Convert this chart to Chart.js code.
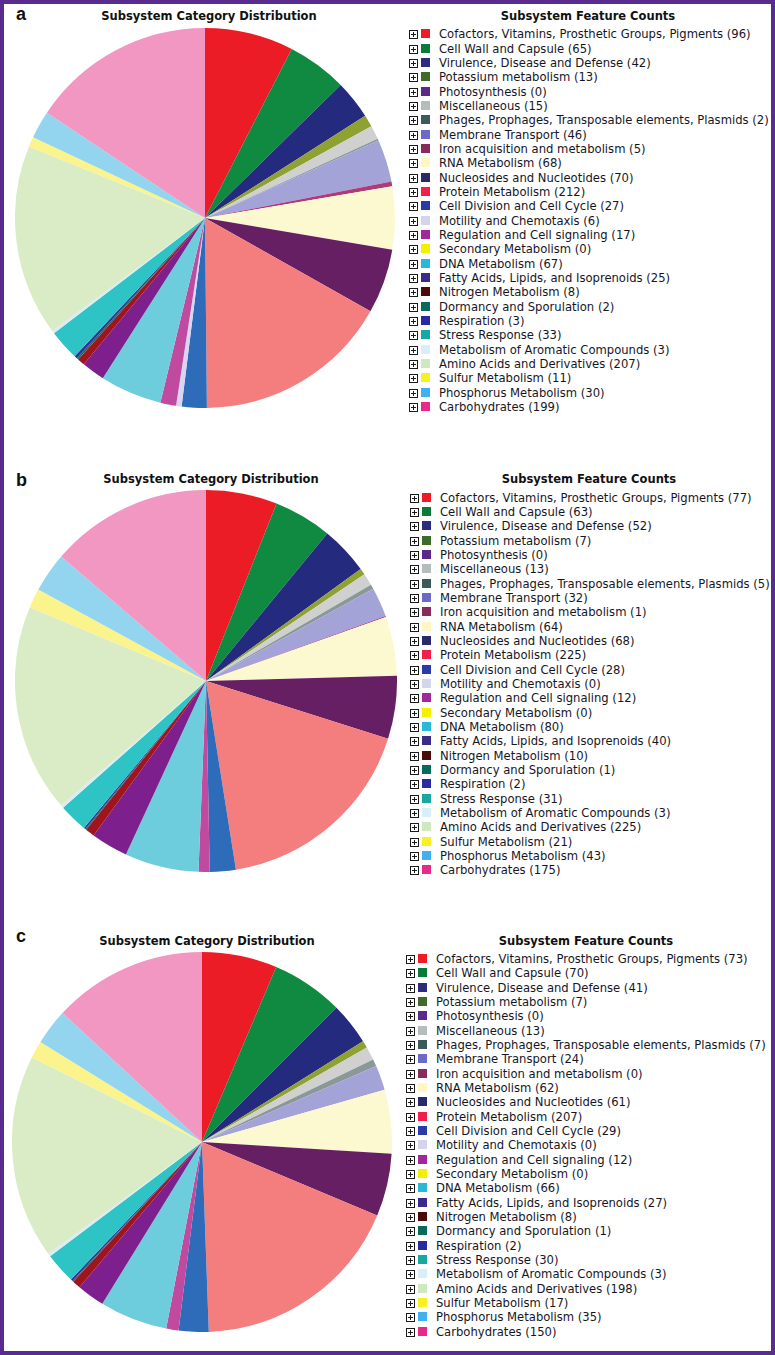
<!DOCTYPE html>
<html>
<head>
<meta charset="utf-8">
<script src="https://cdn.jsdelivr.net/npm/chart.js@4.4.1/dist/chart.umd.min.js"></script>
<style>
    html, body { margin: 0; padding: 0; background: #fff; }
    body { width: 775px; height: 1355px; position: relative; overflow: hidden; font-family: "DejaVu Sans", Verdana, sans-serif; }
    #frame { position: absolute; left: 0; top: 0; width: 775px; height: 1355px; box-sizing: border-box; border: 4px solid #5b2c8f; pointer-events: none; z-index: 5; }
    .panel-label { position: absolute; font-family: "Liberation Sans", Arial, sans-serif; font-weight: bold; font-size: 18px; color: #111; line-height: 20px; }
    .pie-title, .key-title { position: absolute; font-weight: bold; font-size: 11.5px; color: #111; line-height: 14px; white-space: nowrap; transform: translateX(-50%); }
    .pie-box { position: absolute; }
    .key-row { position: absolute; height: 14px; line-height: 14px; font-size: 11.6px; color: #16161f; white-space: nowrap; }
    .key-row .plus { position: absolute; left: -30px; top: 3px; width: 7px; height: 7px; border: 1px solid #1a1a1a;
        background: linear-gradient(#1a1a1a, #1a1a1a) center / 5px 1px no-repeat, linear-gradient(#1a1a1a, #1a1a1a) center / 1px 5px no-repeat; }
    .key-row .swatch { position: absolute; left: -18px; top: 2px; width: 9px; height: 9px; }
</style>
</head>
<body>
<div id="frame"></div>

<script>
// Subsystem categories (same order in legend and pie, clockwise from 12 o'clock)
const categories = [
    'Cofactors, Vitamins, Prosthetic Groups, Pigments',
    'Cell Wall and Capsule',
    'Virulence, Disease and Defense',
    'Potassium metabolism',
    'Photosynthesis',
    'Miscellaneous',
    'Phages, Prophages, Transposable elements, Plasmids',
    'Membrane Transport',
    'Iron acquisition and metabolism',
    'RNA Metabolism',
    'Nucleosides and Nucleotides',
    'Protein Metabolism',
    'Cell Division and Cell Cycle',
    'Motility and Chemotaxis',
    'Regulation and Cell signaling',
    'Secondary Metabolism',
    'DNA Metabolism',
    'Fatty Acids, Lipids, and Isoprenoids',
    'Nitrogen Metabolism',
    'Dormancy and Sporulation',
    'Respiration',
    'Stress Response',
    'Metabolism of Aromatic Compounds',
    'Amino Acids and Derivatives',
    'Sulfur Metabolism',
    'Phosphorus Metabolism',
    'Carbohydrates'
];

// Feature counts for panels a, b, c
const countsA = [96, 65, 42, 13, 0, 15, 2, 46, 5, 68, 70, 212, 27, 6, 17, 0, 67, 25, 8, 2, 3, 33, 3, 207, 11, 30, 199];
const countsB = [77, 63, 52, 7, 0, 13, 5, 32, 1, 64, 68, 225, 28, 0, 12, 0, 80, 40, 10, 1, 2, 31, 3, 225, 21, 43, 175];
const countsC = [73, 70, 41, 7, 0, 13, 7, 24, 0, 62, 61, 207, 29, 0, 12, 0, 66, 27, 8, 1, 2, 30, 3, 198, 17, 35, 150];

const panelLabels = ['a', 'b', 'c'];
const pieTitle = 'Subsystem Category Distribution';
const keyTitle = 'Subsystem Feature Counts';

// Slice colours (pie) and swatch colours (legend)
const sliceColors = [
    '#ec1c26', '#108a40', '#242a7e', '#8ea232', '#5b2a8c', '#d0d0d0', '#8a9898', '#a4a3d8', '#b03a78',
    '#fcf9d0', '#661f62', '#f47d7e', '#2e6bb8', '#d6d6f0', '#c04aa0', '#f5ee30', '#6dcddd', '#7d1f8c',
    '#a0141e', '#1d6d5e', '#30309a', '#2ec3c4', '#dcecf6', '#d9ecc6', '#fbf38c', '#93d4ef', '#f197c1'
];
const keyColors = [
    '#ed1c24', '#0a7a3a', '#2b2b80', '#3f6b2a', '#5a2a8a', '#b4bcbc', '#3c5a5a', '#6a6ac8', '#8a2a5a',
    '#fff6c4', '#28286a', '#f0204a', '#2a3aa8', '#d4d4ec', '#a0289a', '#f5f000', '#28b8d8', '#3a2a8a',
    '#4a0a0a', '#0a6a5a', '#2a2aa0', '#18a8a0', '#d8eef8', '#d0e8c0', '#f8f020', '#40b0f0', '#e8288a'
];

// Layout of the three panels
const panels = [
    { counts: countsA, labelX: 16, labelY: 4, cx: 205, cy: 218, r: 190, titleX: 209, titleY: 9, keyTitleX: 588, keyX: 439, keyY: 34.3 },
    { counts: countsB, labelX: 16, labelY: 470, cx: 206, cy: 681, r: 191, titleX: 211, titleY: 472, keyTitleX: 589, keyX: 440, keyY: 497.7 },
    { counts: countsC, labelX: 16, labelY: 926, cx: 202, cy: 1142, r: 190, titleX: 207, titleY: 934, keyTitleX: 586, keyX: 436, keyY: 959 }
];
const rowStep = 14.33;

function addText(cls, text, x, y) {
    const el = document.createElement('div');
    el.className = cls;
    el.textContent = text;
    el.style.left = x + 'px';
    el.style.top = y + 'px';
    document.body.appendChild(el);
    return el;
}

function buildKey(p) {
    addText('key-title', keyTitle, p.keyTitleX, p.titleY);
    categories.forEach((name, i) => {
        const row = addText('key-row', name + ' (' + p.counts[i] + ')', p.keyX, p.keyY + i * rowStep - 7);
        const plus = document.createElement('span');
        plus.className = 'plus';
        const sw = document.createElement('span');
        sw.className = 'swatch';
        sw.style.background = keyColors[i];
        row.appendChild(plus);
        row.appendChild(sw);
    });
}

function buildPie(p) {
    const box = document.createElement('div');
    box.className = 'pie-box';
    box.style.left = (p.cx - p.r) + 'px';
    box.style.top = (p.cy - p.r) + 'px';
    box.style.width = (p.r * 2) + 'px';
    box.style.height = (p.r * 2) + 'px';
    const canvas = document.createElement('canvas');
    box.appendChild(canvas);
    document.body.appendChild(box);

    new Chart(canvas, {
        type: 'pie',
        data: {
            labels: categories,
            datasets: [{
                data: p.counts,
                backgroundColor: sliceColors,
                borderWidth: 0
            }]
        },
        options: {
            responsive: true,
            maintainAspectRatio: false,
            animation: false,
            layout: { padding: 0 },
            plugins: {
                legend: { display: false },
                tooltip: { enabled: false }
            }
        }
    });
}

panels.forEach((p, k) => {
    addText('panel-label', panelLabels[k], p.labelX, p.labelY);
    addText('pie-title', pieTitle, p.titleX, p.titleY);
    buildPie(p);
    buildKey(p);
});
</script>
</body>
</html>
